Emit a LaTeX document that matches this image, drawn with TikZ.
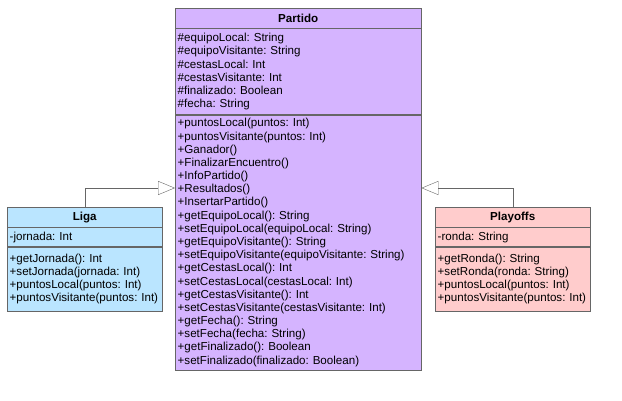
\documentclass[tikz,border=0pt]{standalone}
\usepackage{fontspec}
\setmainfont{Liberation Sans}
\usetikzlibrary{positioning,arrows.meta}

\definecolor{partidoc}{HTML}{D5B4FF}
\definecolor{ligac}{HTML}{BAE5FF}
\definecolor{playoffsc}{HTML}{FFCCCC}
\definecolor{linec}{HTML}{666666}

\frenchspacing

\begin{document}
\begin{tikzpicture}[x=1pt,y=-1pt,
    classtitle/.style={rectangle,draw=linec,minimum height=20pt,inner sep=0pt,font=\bfseries\fontsize{11.6}{13.17}\selectfont},
    classbody/.style={rectangle,draw=linec,inner xsep=2.5pt,inner ysep=0pt,align=left,font=\fontsize{11.6}{13.17}\selectfont},
    inherit/.style={draw=linec,-{Triangle[open,length=17pt,width=14pt]}}]
    \useasboundingbox (0,0) rectangle (622,401);
    % Partido
    \node[classtitle, fill=partidoc, minimum width=246pt, anchor=north west] (partido) at (175,8) {Partido};
    \node[classbody, fill=partidoc, text width=241pt, minimum height=86pt, below=0pt of partido] (partidoAttr) {%
        \#equipoLocal: String\\
        \#equipoVisitante: String\\
        \#cestasLocal: Int\\
        \#cestasVisitante: Int\\
        \#finalizado: Boolean\\
        \#fecha: String};
    \node[classbody, fill=partidoc, text width=241pt, minimum height=255pt, below=0pt of partidoAttr] (partidoMeth) {%
        +puntosLocal(puntos: Int)\\
        +puntosVisitante(puntos: Int)\\
        +Ganador()\\
        +FinalizarEncuentro()\\
        +InfoPartido()\\
        +Resultados()\\
        +InsertarPartido()\\
        +getEquipoLocal(): String\\
        +setEquipoLocal(equipoLocal: String)\\
        +getEquipoVisitante(): String\\
        +setEquipoVisitante(equipoVisitante: String)\\
        +getCestasLocal(): Int\\
        +setCestasLocal(cestasLocal: Int)\\
        +getCestasVisitante(): Int\\
        +setCestasVisitante(cestasVisitante: Int)\\
        +getFecha(): String\\
        +setFecha(fecha: String)\\
        +getFinalizado(): Boolean\\
        +setFinalizado(finalizado: Boolean)};
    % Liga
    \node[classtitle, fill=ligac, minimum width=155pt, anchor=north west] (liga) at (7,207) {Liga};
    \node[classbody, fill=ligac, text width=150pt, minimum height=19pt, below=0pt of liga] (ligaAttr) {-jornada: Int};
    \node[classbody, fill=ligac, text width=150pt, minimum height=64pt, below=0pt of ligaAttr] (ligaMeth) {%
        +getJornada(): Int\\
        +setJornada(jornada: Int)\\
        +puntosLocal(puntos: Int)\\
        +puntosVisitante(puntos: Int)};
    % Playoffs
    \node[classtitle, fill=playoffsc, minimum width=155pt, anchor=north west] (playoffs) at (435,207) {Playoffs};
    \node[classbody, fill=playoffsc, text width=150pt, minimum height=19pt, below=0pt of playoffs] (playoffsAttr) {-ronda: String};
    \node[classbody, fill=playoffsc, text width=150pt, minimum height=64pt, below=0pt of playoffsAttr] (playoffsMeth) {%
        +getRonda(): String\\
        +setRonda(ronda: String)\\
        +puntosLocal(puntos: Int)\\
        +puntosVisitante(puntos: Int)};
    % herencia
    \coordinate (joinY) at (0,188);
    \draw[inherit] (liga.north) |- (partidoMeth.west |- joinY);
    \draw[inherit] (playoffs.north) |- (partidoMeth.east |- joinY);
\end{tikzpicture}
\end{document}
